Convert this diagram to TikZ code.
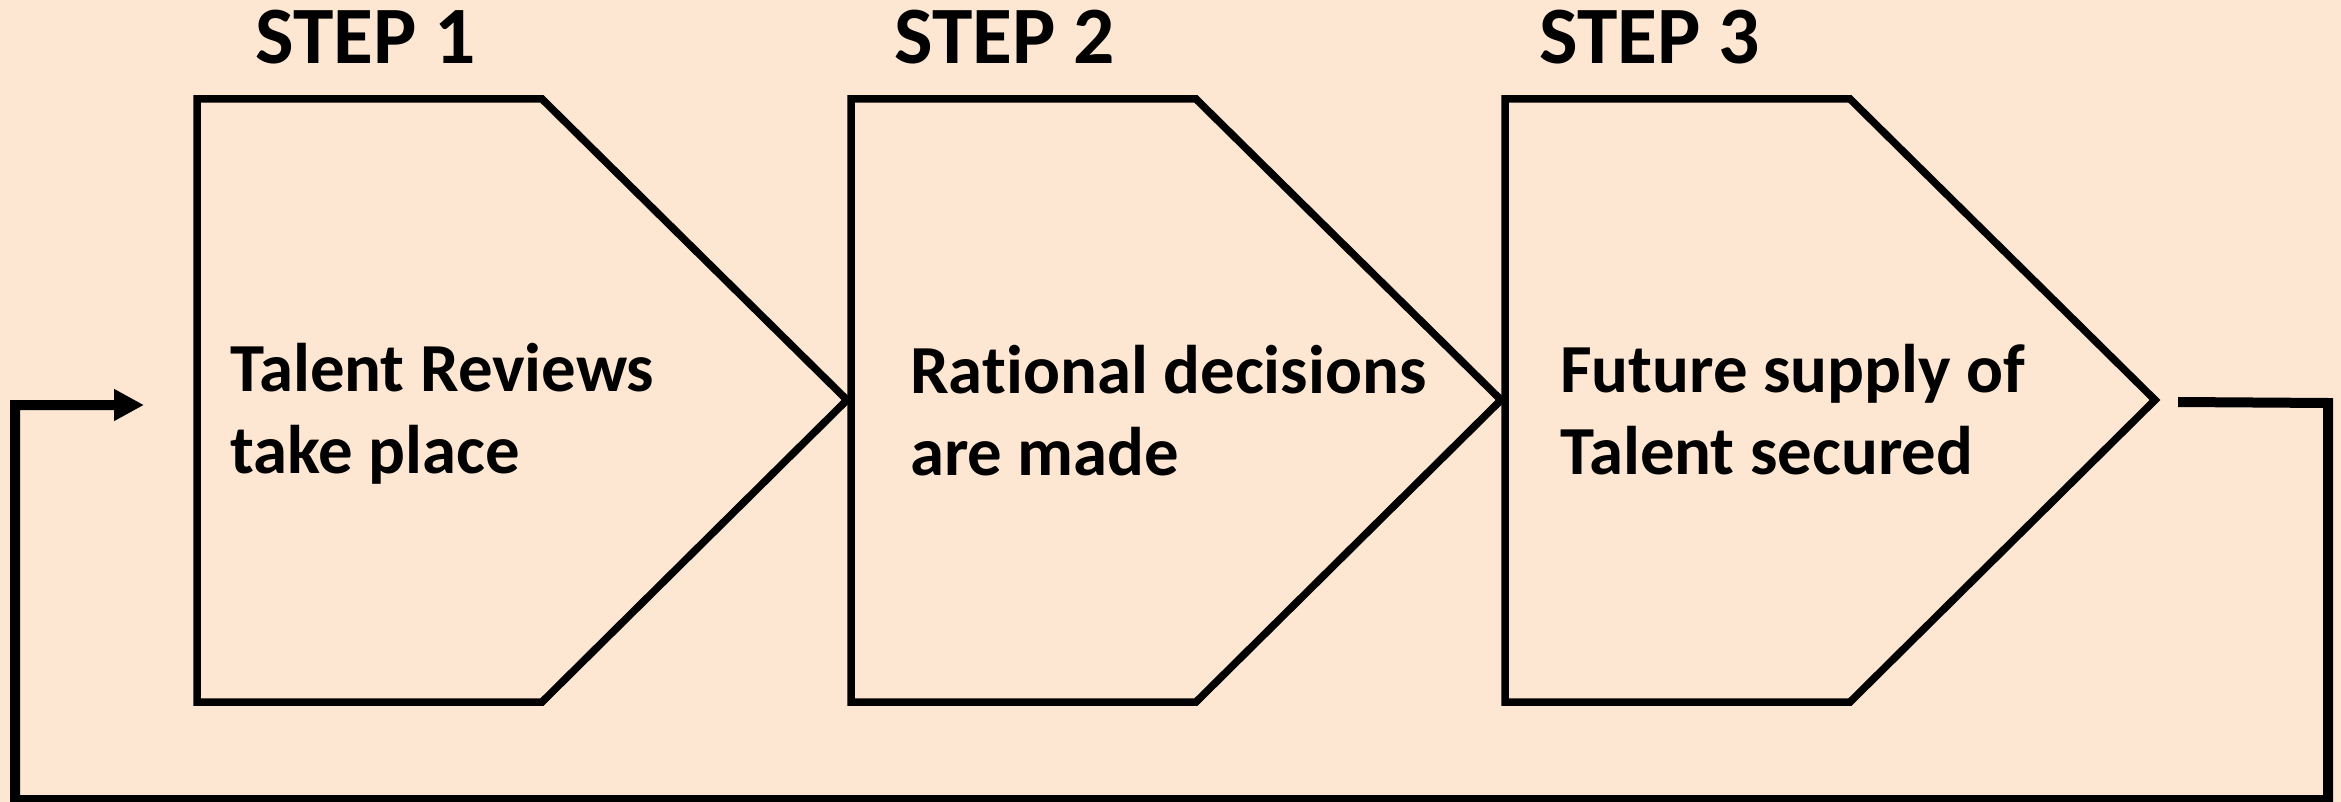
\documentclass[tikz,border=0pt]{standalone}
\usepackage{fontspec}
\setmainfont{Carlito}[Ligatures=NoCommon]
\usetikzlibrary{arrows.meta}
\definecolor{peach}{RGB}{253,231,210}
\tikzset{
  chevron/.style={draw=black, line width=7.5pt, line join=miter},
  loopline/.style={draw=black, line width=10pt, line join=miter},
  steptitle/.style={anchor=base west, inner sep=0pt, font=\bfseries\fontsize{81.5}{96}\selectfont},
  bodytext/.style={anchor=base west, inner sep=0pt, font=\bfseries\fontsize{68.8}{82}\selectfont}
}
\begin{document}
\begin{tikzpicture}[x=1pt, y=-1pt]
\useasboundingbox (0,0) rectangle (2341,802);
\fill[peach] (0,0) rectangle (2341,802);

% chevron boxes
\foreach \i/\l in {1/197, 2/851, 3/1505} {
  \draw[chevron] (\l,99) -- (\l+345,99) -- (\l+650,400) -- (\l+345,702) -- (\l,702) -- cycle;
  \coordinate (tip\i) at (\l+650,400);
}

% titles
\node[steptitle] (s1) at (255,64) {STEP 1};
\node[steptitle] (s2) at (894,64) {STEP 2};
\node[steptitle] (s3) at (1539,64) {STEP 3};

% body texts
\node[bodytext] (t1a) at (230,391) {Talent Reviews};
\node[bodytext] (t1b) at (230,473) {take place};
\node[bodytext] (t2a) at (910,393) {Rational decisions};
\node[bodytext] (t2b) at (910,475) {are made};
\node[bodytext] (t3a) at (1560,392) {Future supply of};
\node[bodytext] (t3b) at (1560,474) {Talent secured};

% feedback loop
\coordinate (ls) at (2178,402);
\coordinate (lr) at (2328,403);
\coordinate (lbr) at (2328,800);
\coordinate (lbl) at (15,800);
\coordinate (ltl) at (15,405);
\coordinate (le) at (144,405);
\draw[loopline, -{Triangle[length=30pt,width=30pt]}]
  (ls) -- (lr) -- (lbr) -- (lbl) -- (ltl) -- (le);
\end{tikzpicture}
\end{document}
